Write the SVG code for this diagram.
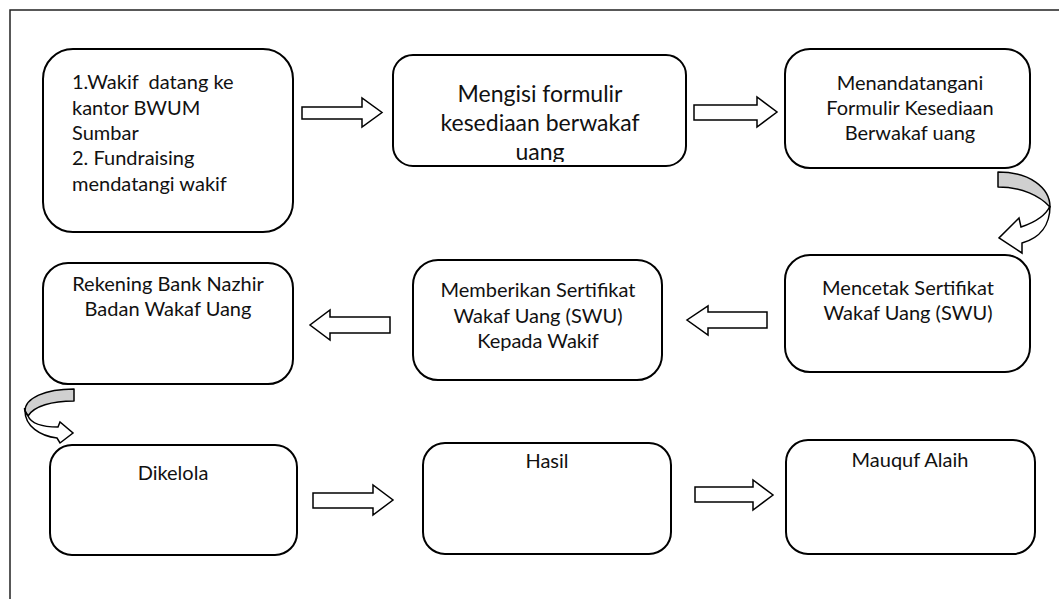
<svg xmlns="http://www.w3.org/2000/svg" width="1059" height="599" viewBox="0 0 1059 599">
<style>
.bg{fill:#ffffff}
.frame{fill:none;stroke:#222;stroke-width:1.5}
.box{fill:#ffffff;stroke:#000;stroke-width:2}
.t{font-family:Lato,"Open Sans",sans-serif;fill:#111;font-size:20px;white-space:pre}
.c{text-anchor:middle}
.big{font-size:23px}
.arr{fill:#ffffff;stroke:#000;stroke-width:1.5;stroke-linejoin:miter}
.gray{fill:#d0d0d0;stroke:#000;stroke-width:1.5;stroke-linejoin:round}
.white{fill:#ffffff;stroke:#000;stroke-width:1.5;stroke-linejoin:miter}
</style>
<defs>
<clipPath id="clip2"><rect x="393" y="55" width="294" height="107"/></clipPath>
</defs>
<rect class="bg" x="0" y="0" width="1059" height="599"/>
<rect class="frame" x="10" y="10" width="1060" height="600"/>

<g id="n1">
<rect class="box" x="43" y="49" width="250" height="183" rx="30"/>
<text class="t" x="72" y="89" xml:space="preserve">1.Wakif  datang ke</text>
<text class="t" x="72" y="115">kantor BWUM</text>
<text class="t" x="72" y="140">Sumbar</text>
<text class="t" x="72" y="165">2. Fundraising</text>
<text class="t" x="72" y="191">mendatangi wakif</text>
</g>

<g id="n2">
<rect class="box" x="393" y="55" width="293" height="111" rx="20"/>
<g clip-path="url(#clip2)">
<text class="t big c" x="540" y="102">Mengisi formulir</text>
<text class="t big c" x="540" y="131">kesediaan berwakaf</text>
<text class="t big c" x="540" y="160">uang</text>
</g>
</g>

<g id="n3">
<rect class="box" x="785" y="49" width="245" height="119" rx="25"/>
<text class="t c" x="910" y="90">Menandatangani</text>
<text class="t c" x="910" y="115">Formulir Kesediaan</text>
<text class="t c" x="910" y="140">Berwakaf uang</text>
</g>

<g id="n4">
<rect class="box" x="785" y="255" width="245" height="117" rx="25"/>
<text class="t c" x="908" y="295">Mencetak Sertifikat</text>
<text class="t c" x="908" y="320">Wakaf Uang (SWU)</text>
</g>

<g id="n5">
<rect class="box" x="413" y="260" width="249" height="120" rx="25"/>
<text class="t c" x="538" y="297">Memberikan Sertifikat</text>
<text class="t c" x="538" y="323">Wakaf Uang (SWU)</text>
<text class="t c" x="538" y="348">Kepada Wakif</text>
</g>

<g id="n6">
<rect class="box" x="43" y="263" width="250" height="121" rx="25"/>
<text class="t c" x="168" y="291">Rekening Bank Nazhir</text>
<text class="t c" x="168" y="316">Badan Wakaf Uang</text>
</g>

<g id="n7">
<rect class="box" x="50" y="445" width="247" height="110" rx="22"/>
<text class="t c" x="173" y="480">Dikelola</text>
</g>

<g id="n8">
<rect class="box" x="423" y="443" width="248" height="111" rx="22"/>
<text class="t c" x="547" y="468">Hasil</text>
</g>

<g id="n9">
<rect class="box" x="786" y="440" width="249" height="114" rx="22"/>
<text class="t c" x="910" y="467">Mauquf Alaih</text>
</g>

<g id="connectors">
<polygon class="arr" points="302,107 362,107 362,98 382,112.5 362,127 362,119 302,119"/>
<polygon class="arr" points="694,105 757,105 757,97 777,112 757,127 757,120 694,120"/>
<polygon class="arr" points="767,312 708,312 708,306 687,320 708,335 708,328 767,328"/>
<polygon class="arr" points="390,317 330,317 330,310 310,325 330,340 330,333 390,333"/>
<polygon class="arr" points="313,493 373,493 373,485 393,500 373,515 373,508 313,508"/>
<polygon class="arr" points="695,487 753,487 753,480 773,495 753,510 753,502 695,502"/>
<path class="gray" d="M998,172 C1030,172 1050,188 1050,207 C1040,196 1022,187 998,187 Z"/>
<path class="white" d="M1050,206 C1050,225 1040,238 1022,243 L1022,253 L999,238 L1019,218 L1021,227 C1036,222 1046,215 1050,206 Z"/>
<path class="gray" d="M74,389 L74,401 C52,401 34,406 28,416 C24,410 24,406 25,411 C25,398 45,389 74,389 Z"/>
<path class="white" d="M25,411 C25,426 40,436 57,438 L60,443 L73,433 L60,422 L58,427 C42,427 31,423 28,416 Z"/>
</g>
</svg>
